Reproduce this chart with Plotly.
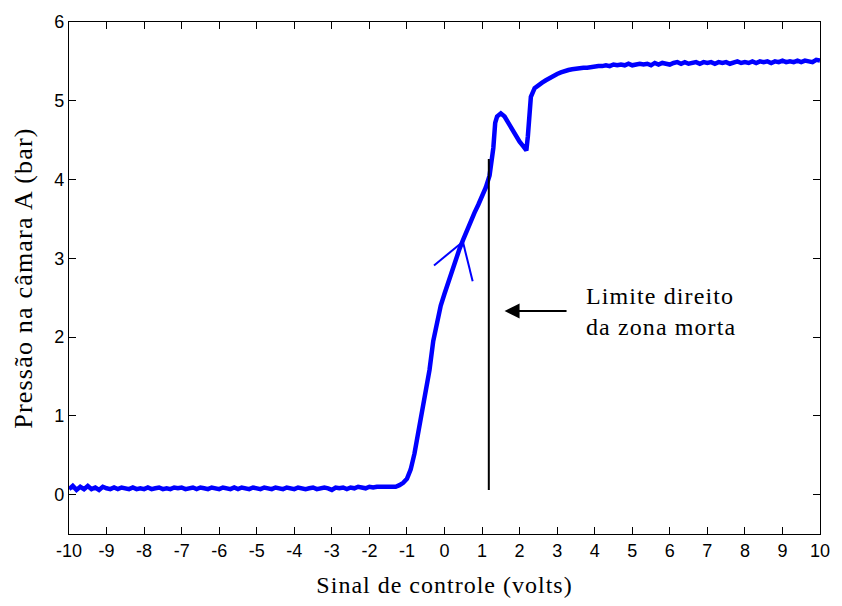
import numpy as np
import plotly.graph_objects as go

# Measured chamber-A pressure vs. control signal
# low plateau, sampled every 0.1 V from -10.0 to -1.5 V
low_x = np.round(np.linspace(-10.0, -1.5, 86), 2)
low_p = [0.07, 0.11, 0.06, 0.10, 0.07, 0.11, 0.07, 0.09, 0.06, 0.10,
         0.08, 0.07, 0.09, 0.07, 0.09, 0.08, 0.07, 0.09, 0.07, 0.08,
         0.07, 0.09, 0.07, 0.08, 0.09, 0.07, 0.08, 0.07, 0.09, 0.08,
         0.09, 0.07, 0.08, 0.09, 0.07, 0.09, 0.08, 0.07, 0.09, 0.08,
         0.07, 0.09, 0.08, 0.07, 0.09, 0.07, 0.09, 0.08, 0.07, 0.09,
         0.08, 0.07, 0.09, 0.08, 0.07, 0.09, 0.08, 0.07, 0.09, 0.08,
         0.07, 0.09, 0.08, 0.07, 0.08, 0.09, 0.07, 0.08, 0.09, 0.08,
         0.06, 0.09, 0.08, 0.09, 0.07, 0.09, 0.08, 0.10, 0.09, 0.08,
         0.10, 0.09, 0.10, 0.10, 0.09, 0.10]

# transition region
mid_x = [-1.4, -1.3, -1.2, -1.1, -1.0, -0.9, -0.8, -0.7, -0.6, -0.5,
         -0.4, -0.3, -0.2, -0.1, 0.0, 0.1, 0.2, 0.3, 0.4, 0.5,
         0.6, 0.7, 0.8, 0.9, 1.0, 1.1, 1.2, 1.25, 1.3, 1.35,
         1.4, 1.5, 1.6, 1.7, 1.8, 1.9, 2.0, 2.1, 2.18, 2.22,
         2.26, 2.3, 2.4, 2.5, 2.6, 2.7, 2.8, 2.9, 3.0, 3.1, 3.2]
mid_p = [0.09, 0.10, 0.12, 0.15, 0.20, 0.32, 0.52, 0.80, 1.05, 1.32,
         1.58, 1.95, 2.20, 2.40, 2.55, 2.70, 2.86, 3.00, 3.12, 3.24,
         3.36, 3.48, 3.58, 3.68, 3.78, 3.90, 4.05, 4.20, 4.40, 4.72,
         4.80, 4.84, 4.80, 4.72, 4.64, 4.55, 4.48, 4.42, 4.37, 4.55,
         4.85, 5.05, 5.16, 5.20, 5.23, 5.26, 5.29, 5.31, 5.34, 5.36, 5.38]

# high plateau, sampled every 0.1 V from 3.3 to 10.0 V
high_x = np.round(np.linspace(3.3, 10.0, 68), 2)
high_p = [5.39, 5.40, 5.41, 5.41, 5.42, 5.42, 5.43, 5.43, 5.44, 5.44,
          5.45, 5.44, 5.46, 5.45, 5.46, 5.45, 5.47, 5.45, 5.46, 5.47,
          5.46, 5.47, 5.45, 5.48, 5.46, 5.48, 5.47, 5.46, 5.48, 5.49,
          5.47, 5.49, 5.47, 5.48, 5.49, 5.47, 5.49, 5.48, 5.49, 5.47,
          5.49, 5.48, 5.49, 5.47, 5.49, 5.50, 5.48, 5.49, 5.48, 5.50,
          5.48, 5.50, 5.49, 5.50, 5.48, 5.50, 5.49, 5.51, 5.49, 5.50,
          5.49, 5.51, 5.49, 5.51, 5.50, 5.49, 5.52, 5.51]

signal = list(low_x) + mid_x + list(high_x)
pressure = low_p + mid_p + high_p

# tangent construction around the inflection point
tangent_a_x = [-0.28, 0.49]
tangent_a_y = [2.91, 3.21]
tangent_b_x = [0.49, 0.75]
tangent_b_y = [3.21, 2.71]

# right limit of the dead zone
limit_x = [1.18, 1.18]
limit_y = [0.06, 4.26]

x_ticks = list(range(-10, 11))
y_ticks = list(range(0, 7))

SERIF = "Liberation Serif"
SANS = "Liberation Sans"


def spaced(text, px):
    return '<span style="letter-spacing:%.1fpx">%s</span>' % (px, text)


fig = go.Figure()
fig.add_trace(go.Scatter(x=signal, y=pressure, mode="lines",
                         line=dict(color="#0000ff", width=4.5), hoverinfo="skip"))
fig.add_trace(go.Scatter(x=tangent_a_x, y=tangent_a_y, mode="lines",
                         line=dict(color="#0000ff", width=2)))
fig.add_trace(go.Scatter(x=tangent_b_x, y=tangent_b_y, mode="lines",
                         line=dict(color="#0000ff", width=2)))
fig.add_trace(go.Scatter(x=limit_x, y=limit_y, mode="lines",
                         line=dict(color="black", width=2)))

fig.add_annotation(x=1.6, y=2.33, ax=3.29, ay=2.33, axref="x", ayref="y",
                   xref="x", yref="y", text="", showarrow=True,
                   arrowhead=2, arrowsize=1.5, arrowwidth=2, arrowcolor="black")
fig.add_annotation(x=3.71, y=2.33, xref="x", yref="y",
                   text=spaced("Limite direito", 1.1) + "<br>" + spaced("da zona morta", 1.1),
                   showarrow=False, xanchor="left", yanchor="middle", align="left",
                   font=dict(family=SERIF, size=24, color="black"))

axis_common = dict(showgrid=False, zeroline=False, showline=True, mirror="ticks",
                   linecolor="black", linewidth=1.2, ticks="inside", ticklen=7,
                   tickcolor="black", tickwidth=1,
                   tickfont=dict(family=SANS, size=18, color="black"))

fig.update_xaxes(range=[-10, 10], tickvals=x_ticks, ticktext=[str(v) for v in x_ticks],
                 title=dict(text=spaced("Sinal de controle (volts)", 1.0), standoff=16,
                            font=dict(family=SERIF, size=24, color="black")),
                 **axis_common)
fig.update_yaxes(range=[-0.5, 6], tickvals=y_ticks, ticktext=[str(v) for v in y_ticks],
                 title=dict(text=spaced("Pressão na câmara A (bar)", 1.2), standoff=14,
                            font=dict(family=SERIF, size=26, color="black")),
                 **axis_common)

fig.update_layout(width=842, height=606, showlegend=False,
                  margin=dict(l=69, r=16, t=18, b=66),
                  plot_bgcolor="white", paper_bgcolor="white")

fig.write_html("out.html")
